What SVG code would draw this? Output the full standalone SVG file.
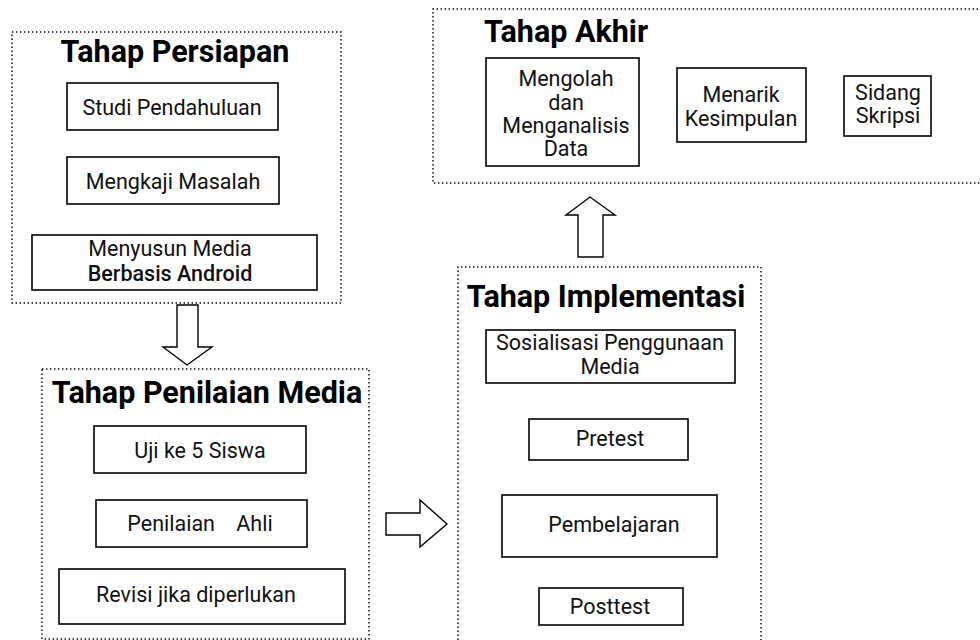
<svg xmlns="http://www.w3.org/2000/svg" width="980" height="640" viewBox="0 0 980 640">
<style>
.grp{fill:none;stroke:#000;stroke-width:1.4;stroke-dasharray:1.4 2.6}
.box{fill:#fff;stroke:#000;stroke-width:1.6}
.title{font-family:Roboto,"Liberation Sans",sans-serif;font-weight:bold;font-size:30.5px;text-anchor:middle;fill:#000}
.t{font-family:Roboto,"Liberation Sans",sans-serif;font-size:21.5px;text-anchor:middle;fill:#111}
.arr{fill:#fff;stroke:#000;stroke-width:1.4;stroke-linejoin:miter}
</style>
<rect width="980" height="640" fill="#fff"/>

<g id="persiapan">
<rect class="grp" x="12" y="32" width="329" height="271"/>
<text class="title" x="175" y="62">Tahap Persiapan</text>
</g>
<g id="studi"><rect class="box" x="67" y="83" width="211" height="47"/><text class="t" x="172" y="115">Studi Pendahuluan</text></g>
<g id="mengkaji"><rect class="box" x="67" y="157" width="212" height="47"/><text class="t" x="173" y="189">Mengkaji Masalah</text></g>
<g id="menyusun"><rect class="box" x="32" y="235" width="285" height="55"/><text class="t" x="170" y="256">Menyusun Media</text><text class="t" x="170" y="280.5" font-weight="500">Berbasis Android</text></g>

<g id="penilaian">
<rect class="grp" x="42" y="369" width="327" height="270"/>
<text class="title" x="207" y="403">Tahap Penilaian Media</text>
</g>
<g id="uji"><rect class="box" x="94" y="426" width="212" height="47"/><text class="t" x="200" y="458">Uji ke 5 Siswa</text></g>
<g id="ahli"><rect class="box" x="96" y="500" width="211" height="47"/><text class="t" x="200" y="531" xml:space="preserve">Penilaian    Ahli</text></g>
<g id="revisi"><rect class="box" x="59" y="569" width="286" height="55"/><text class="t" x="196" y="602">Revisi jika diperlukan</text></g>

<g id="implementasi">
<path class="grp" d="M458 640 V267 H761 V640"/>
<text class="title" x="606" y="307">Tahap Implementasi</text>
</g>
<g id="sosialisasi"><rect class="box" x="486" y="330" width="249" height="53"/><text class="t" x="610" y="350">Sosialisasi Penggunaan</text><text class="t" x="610" y="374">Media</text></g>
<g id="pretest"><rect class="box" x="529" y="419" width="159" height="41"/><text class="t" x="610" y="446">Pretest</text></g>
<g id="pembelajaran"><rect class="box" x="502" y="495" width="215" height="62"/><text class="t" x="614" y="532">Pembelajaran</text></g>
<g id="posttest"><rect class="box" x="539" y="588" width="144" height="37"/><text class="t" x="610" y="614">Posttest</text></g>

<g id="akhir">
<path class="grp" d="M982 9 H433 V183 H982"/>
<text class="title" x="566" y="42">Tahap Akhir</text>
</g>
<g id="mengolah"><rect class="box" x="486" y="58" width="153" height="108"/><text class="t" x="566" y="86">Mengolah</text><text class="t" x="566" y="110">dan</text><text class="t" x="566" y="133">Menganalisis</text><text class="t" x="566" y="156">Data</text></g>
<g id="menarik"><rect class="box" x="677" y="68" width="129" height="74"/><text class="t" x="741" y="102">Menarik</text><text class="t" x="741" y="126">Kesimpulan</text></g>
<g id="sidang"><rect class="box" x="844" y="76" width="87" height="60"/><text class="t" x="888" y="100">Sidang</text><text class="t" x="888" y="123">Skripsi</text></g>

<g id="connectors">
<polygon class="arr" points="177,305 198,305 198,347 212,347 187,365 163,347 177,347"/>
<polygon class="arr" points="386,513 420,513 420,500 447,524 420,547 420,535 386,535"/>
<polygon class="arr" points="578,257 578,215 566,215 590,197 615,215 603,215 603,257"/>
</g>
</svg>
